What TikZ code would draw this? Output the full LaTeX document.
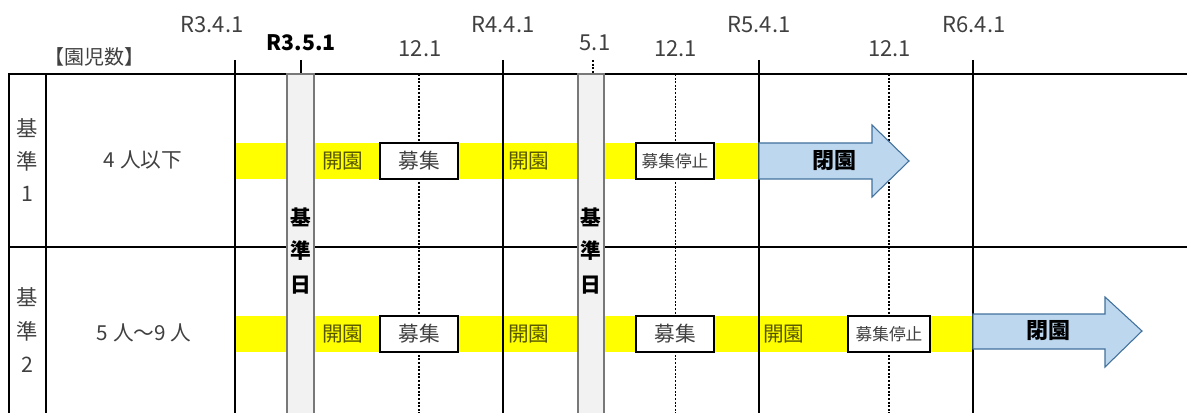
\documentclass[tikz,border=0pt]{standalone}
\usepackage{fontspec}
\setmainfont{Noto Sans CJK JP}
\definecolor{txtgray}{RGB}{64,64,64}
\definecolor{olive}{RGB}{85,85,0}
\definecolor{yel}{RGB}{255,255,0}
\definecolor{barfill}{RGB}{242,242,242}
\definecolor{barline}{RGB}{120,120,120}
\definecolor{arrfill}{RGB}{189,215,238}
\definecolor{arrline}{RGB}{65,113,156}
\begin{document}
\begin{tikzpicture}[x=0.75pt,y=-0.75pt,
  txt/.style={text=txtgray, inner sep=0pt, font=\fontsize{15.5}{17}\selectfont},
  date/.style={text=txtgray, inner sep=0pt, font=\fontsize{16.5}{18}\selectfont},
  grid/.style={line width=1.5pt, black},
  dotline/.style={line width=0.8pt, black, dash pattern=on 1.5pt off 1.2pt},
  band/.style={fill=yel, draw=none},
  bar/.style={fill=barfill, draw=barline, line width=0.8pt},
  boxnode/.style={draw=black, line width=1.5pt, fill=white, text=txtgray, inner sep=0pt,
     minimum width=58.5pt, minimum height=27pt, font=\fontsize{15.5}{17}\selectfont},
  kaien/.style={text=olive, inner sep=0pt, anchor=west, font=\fontsize{15.5}{17}\selectfont},
  arr/.style={fill=arrfill, draw=arrline, line width=0.8pt},
  arrtxt/.style={inner sep=0pt, font=\fontsize{16.5}{18}\selectfont\bfseries},
  vlab/.style={text=txtgray, inner sep=0pt, font=\fontsize{16}{18}\selectfont},
  vbold/.style={inner sep=0pt, font=\fontsize{15.5}{17}\selectfont\bfseries}
]
\useasboundingbox (0,0) rectangle (1187,413);

% dotted 12.1 lines
\coordinate (d1t) at (419,74);   \coordinate (d1b) at (419,413);
\coordinate (d2t) at (675.5,74); \coordinate (d2b) at (675.5,413);
\coordinate (d3t) at (889,74);   \coordinate (d3b) at (889,413);
\draw[dotline] (d1t) -- (d1b);
\draw[dotline] (d2t) -- (d2b);
\draw[dotline] (d3t) -- (d3b);

% yellow bands
\fill[band] (235,143) rectangle (759,179);
\fill[band] (235,316) rectangle (973,352);

% grid lines
\draw[grid] (8,74) -- (1187,74);
\draw[grid] (8,246.5) -- (1187,246.5);
\draw[grid] (8.5,74) -- (8.5,413);
\draw[grid] (46,74) -- (46,413);
\draw[grid] (235,60) -- (235,413);
\draw[grid] (502.7,60) -- (502.7,413);
\draw[grid] (759,60) -- (759,413);
\draw[grid] (973.3,60) -- (973.3,413);
\draw[grid] (301,60) -- (301,74);
\draw[dotline] (593,60) -- (593,74);

% grey bars
\draw[bar] (287,74) rectangle (314,420);
\draw[bar] (578,74) rectangle (604,420);
\foreach \x/\n in {300.5/a,591/b}{
  \node[vbold] (ki\n) at (\x,217) {基};
  \node[vbold] (ju\n) at (\x,251) {準};
  \node[vbold] (hi\n) at (\x,285) {日};
}

% header labels
\node[date] (r341) at (212,25) {R3.4.1};
\node[date, text=black, font=\fontsize{16}{18}\selectfont\bfseries] (r351) at (301,43) {R3.5.1};
\node[txt, font=\fontsize{15}{17}\selectfont] (enji) at (94,57) {【園児数】};
\node[date] (t1) at (420,49) {12.1};
\node[date] (r441) at (503,25) {R4.4.1};
\node[date] (t51) at (595,43) {5.1};
\node[date] (t2) at (675.5,49) {12.1};
\node[date] (r541) at (759,25) {R5.4.1};
\node[date] (t3) at (889.5,49) {12.1};
\node[date] (r641) at (974,25) {R6.4.1};

% row labels
\node[vlab] (k1a) at (27,128) {基};
\node[vlab] (k1b) at (27,161) {準};
\node[vlab] (k1c) at (27,194) {1};
\node[vlab] (k2a) at (27,297) {基};
\node[vlab] (k2b) at (27,331) {準};
\node[vlab] (k2c) at (27,365) {2};
\node[txt] (n1) at (143,160) {4 人以下};
\node[txt] (n2) at (144,333) {5 人～9 人};

% row 1
\node[kaien] (ka1) at (322,161) {開園};
\node[boxnode] (bo1) at (419,161) {募集};
\node[kaien] (ka2) at (508,161) {開園};
\node[boxnode, font=\fontsize{12.5}{14}\selectfont] (bs1) at (675,161) {募集停止};
\draw[arr] (759,143) -- (872,143) -- (872,125) -- (909,161) -- (872,197) -- (872,179) -- (759,179) -- cycle;
\node[arrtxt] (cl1) at (834,161) {閉園};

% row 2
\node[kaien] (ka3) at (322,334) {開園};
\node[boxnode] (bo2) at (419,334) {募集};
\node[kaien] (ka4) at (508,334) {開園};
\node[boxnode] (bo3) at (675,334) {募集};
\node[kaien] (ka5) at (763,334) {開園};
\node[boxnode, font=\fontsize{12.5}{14}\selectfont, minimum width=61.5pt] (bs2) at (889,334) {募集停止};
\draw[arr] (973,314) -- (1105,314) -- (1105,297) -- (1142,331) -- (1105,367) -- (1105,349) -- (973,349) -- cycle;
\node[arrtxt] (cl2) at (1048,331) {閉園};
\end{tikzpicture}
\end{document}
